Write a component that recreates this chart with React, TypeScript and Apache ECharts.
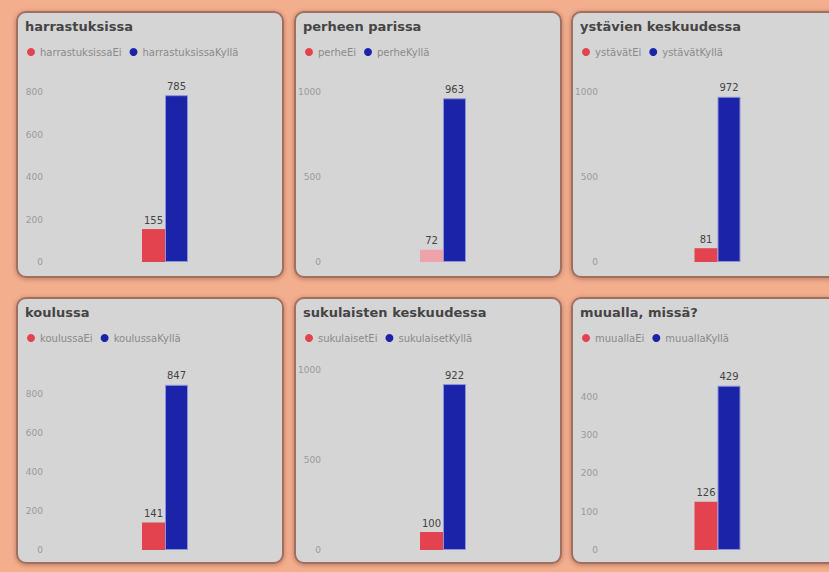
import React, { useEffect, useRef } from "react";
import * as echarts from "echarts";

const titles = [
  "harrastuksissa",
  "perheen parissa",
  "ystävien keskuudessa",
  "koulussa",
  "sukulaisten keskuudessa",
  "muualla, missä?",
];
const noNames = ["harrastuksissaEi", "perheEi", "ystävätEi", "koulussaEi", "sukulaisetEi", "muuallaEi"];
const yesNames = ["harrastuksissaKyllä", "perheKyllä", "ystävätKyllä", "koulussaKyllä", "sukulaisetKyllä", "muuallaKyllä"];
const noValues = [155, 72, 81, 141, 100, 126];
const yesValues = [785, 963, 972, 847, 922, 429];
const axisMax = [800, 1000, 1000, 923, 1000, 470];
const axisInterval = [200, 500, 500, 200, 500, 100];

const COLS = [17, 295, 572];
const ROWS = [12, 298];
const PW = 266;
const PH = 265;
const GRID_TOP_REL = [80, 72];
const GRID_BOTTOM_REL = 250;

export default function App() {
  const ref = useRef<HTMLDivElement>(null);
  useEffect(() => {
    if (!ref.current) return;
    const chart = echarts.init(ref.current, null, { renderer: "svg" });
    const title: any[] = [];
    const legend: any[] = [];
    const grid: any[] = [];
    const xAxis: any[] = [];
    const yAxis: any[] = [];
    const series: any[] = [];
    const graphic: any[] = [];
    for (let i = 0; i < 6; i++) {
      const r = Math.floor(i / 3);
      const c = i % 3;
      const pl = COLS[c];
      const pt = ROWS[r];
      graphic.push({
        type: "rect",
        z: 0,
        shape: { x: pl, y: pt, width: PW, height: PH, r: 9 },
        style: {
          fill: "#d5d5d5",
          stroke: "#a0705f",
          lineWidth: 2,
          shadowBlur: 5,
          shadowColor: "rgba(80,30,10,0.35)",
          shadowOffsetY: 1,
        },
      });
      title.push({
        text: titles[i],
        left: pl + 3,
        top: pt + 3,
        textStyle: { fontSize: 13, fontWeight: "bold", color: "#454545", fontFamily: "DejaVu Sans" },
      });
      legend.push({
        data: [noNames[i], yesNames[i]],
        left: pl + 5,
        top: pt + 30,
        icon: "circle",
        itemWidth: 8,
        itemHeight: 8,
        itemGap: 8,
        itemStyle: { borderWidth: 0 },
        textStyle: { fontSize: 10, color: "#8a8a8a" },
      });
      const gTop = pt + GRID_TOP_REL[r];
      const gBottom = pt + GRID_BOTTOM_REL + (r === 1 ? 2 : 0);
      grid.push({
        left: pl + 34,
        top: gTop,
        width: 228,
        height: gBottom - gTop,
        containLabel: false,
      });
      xAxis.push({
        type: "category",
        gridIndex: i,
        data: [titles[i]],
        axisLine: { show: false },
        axisTick: { show: false },
        axisLabel: { show: false },
      });
      const maxIsTick = axisMax[i] % axisInterval[i] === 0;
      yAxis.push({
        type: "value",
        gridIndex: i,
        min: 0,
        max: axisMax[i],
        interval: axisInterval[i],
        axisLine: { show: false },
        axisTick: { show: false },
        splitLine: { show: false },
        axisLabel: {
          fontSize: 9,
          color: "#9a9a9a",
          margin: 8,
          showMaxLabel: maxIsTick,
          formatter: (v: number) => String(v),
        },
      });
      const label = { show: true, position: "top", distance: 4, fontSize: 10, color: "#444" };
      series.push({
        type: "bar",
        name: noNames[i],
        xAxisIndex: i,
        yAxisIndex: i,
        data: i === 1 ? [{ value: noValues[i], itemStyle: { color: "#eda3a9" } }] : [noValues[i]],
        barWidth: 23,
        barGap: "0%",
        itemStyle: { color: "#e3434f" },
        label,
        z: 3,
      });
      series.push({
        type: "bar",
        name: yesNames[i],
        xAxisIndex: i,
        yAxisIndex: i,
        data: [yesValues[i]],
        barWidth: 23,
        barGap: "0%",
        itemStyle: { color: "#1b24a8", borderColor: "#8d93d8", borderWidth: 1 },
        label,
        z: 3,
      });
    }
    chart.setOption({
      animation: false,
      backgroundColor: "#f3ae8e",
      textStyle: { fontFamily: "DejaVu Sans" },
      title,
      legend,
      grid,
      xAxis,
      yAxis,
      series,
      graphic: { elements: graphic },
    });
    return () => chart.dispose();
  }, []);
  return (
    <div
      ref={ref}
      style={{ position: "fixed", left: 0, top: 0, width: 829, height: 572 }}
    />
  );
}
